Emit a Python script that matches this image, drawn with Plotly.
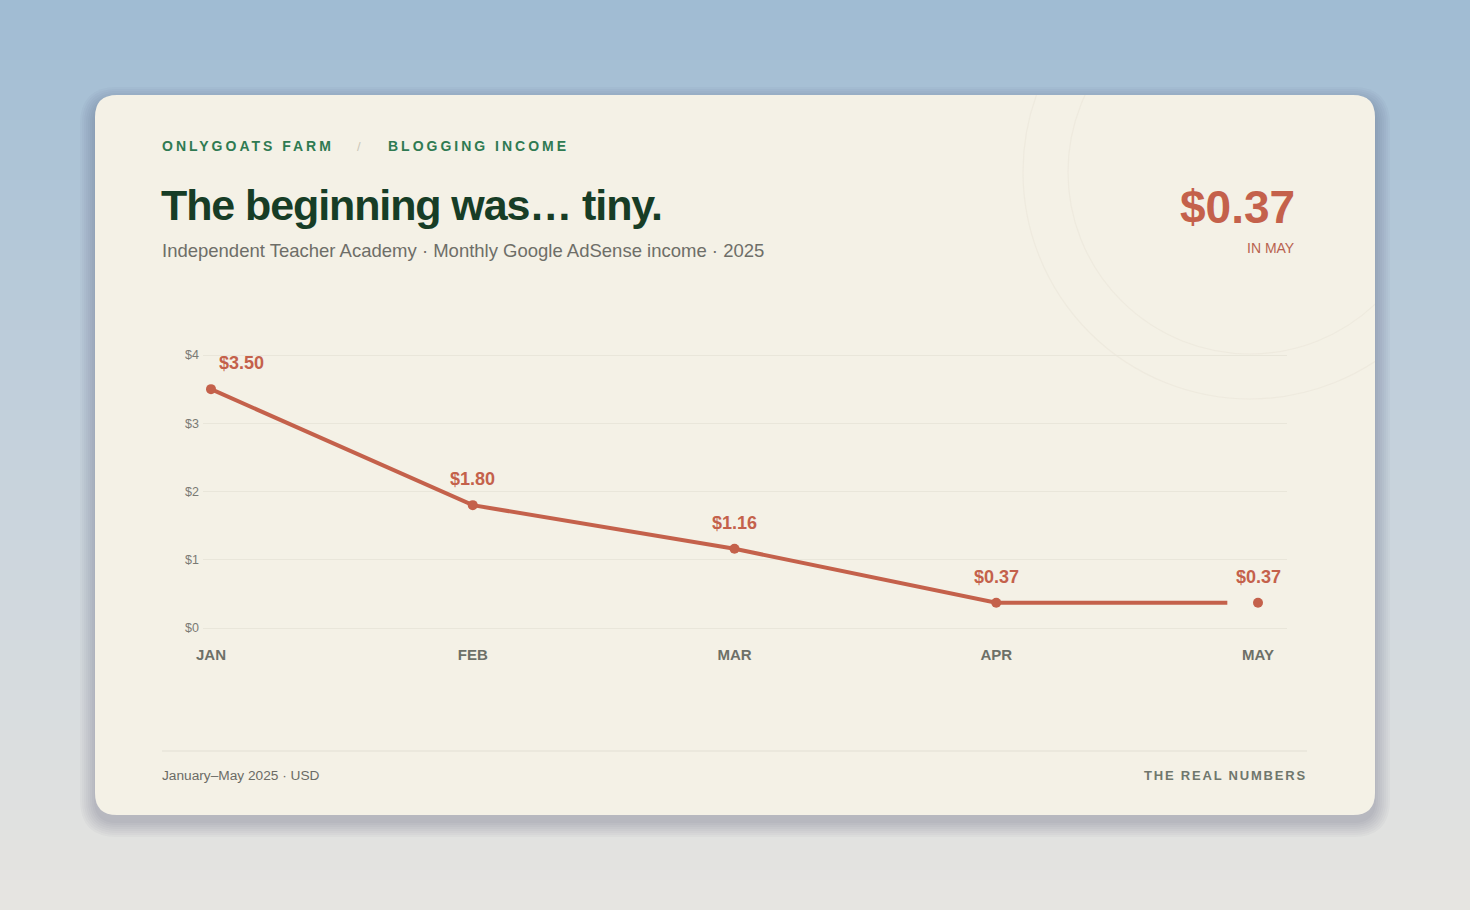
import plotly.graph_objects as go

# ---------------- data ----------------
months = ["JAN", "FEB", "MAR", "APR", "MAY"]
income = [3.50, 1.80, 1.16, 0.37, 0.37]
value_labels = ["$3.50", "$1.80", "$1.16", "$0.37", "$0.37"]
y_ticks = [0, 1, 2, 3, 4]
y_tick_labels = ["$0", "$1", "$2", "$3", "$4"]

W, H = 1470, 910
ACCENT = "#c4614b"
CARD = "#f4f1e6"


def px(x):
    return x / W


def py(y):
    return 1 - y / H


def rrect_path(x0, y0, x1, y1, r):
    """rounded rectangle path in paper coords from pixel values"""
    pts = [
        f"M{px(x0 + r)},{py(y0)}",
        f"L{px(x1 - r)},{py(y0)}",
        f"Q{px(x1)},{py(y0)} {px(x1)},{py(y0 + r)}",
        f"L{px(x1)},{py(y1 - r)}",
        f"Q{px(x1)},{py(y1)} {px(x1 - r)},{py(y1)}",
        f"L{px(x0 + r)},{py(y1)}",
        f"Q{px(x0)},{py(y1)} {px(x0)},{py(y1 - r)}",
        f"L{px(x0)},{py(y0 + r)}",
        f"Q{px(x0)},{py(y0)} {px(x0 + r)},{py(y0)}",
        "Z",
    ]
    return " ".join(pts)


def lerp(c1, c2, t):
    return tuple(round(a + (b - a) * t) for a, b in zip(c1, c2))


shapes = []

# background gradient
top_c = (160, 188, 211)
mid_c = (198, 210, 220)
bot_c = (231, 229, 225)
band = 10
for i in range(0, H, band):
    t = i / H
    if t < 0.5:
        c = lerp(top_c, mid_c, t / 0.5)
    else:
        c = lerp(mid_c, bot_c, (t - 0.5) / 0.5)
    shapes.append(dict(type="rect", xref="paper", yref="paper",
                       x0=0, x1=1, y0=py(i + band + 1), y1=py(i),
                       fillcolor=f"rgb{c}", line_width=0, layer="below"))

# card shadow
CX0, CY0, CX1, CY1, CR = 95, 95, 1375, 815, 22
for k in range(8):
    e = 1 + k * 2.0
    shapes.append(dict(type="path", xref="paper", yref="paper",
                       path=rrect_path(CX0 - e, CY0 - e + 7, CX1 + e, CY1 + e + 7, CR + e),
                       fillcolor="rgba(40,50,60,0.026)", line_width=0, layer="below"))

# card
shapes.append(dict(type="path", xref="paper", yref="paper",
                   path=rrect_path(CX0, CY0, CX1, CY1, CR),
                   fillcolor=CARD, line_width=0, layer="below"))

# decorative faint circles (clipped to the card via background axes)
for r in (227, 182):
    shapes.append(dict(type="circle", xref="x", yref="y",
                       x0=1250 - r, x1=1250 + r, y0=172 - r, y1=172 + r,
                       line=dict(color="rgba(225,220,205,0.3)", width=1.2),
                       fillcolor="rgba(0,0,0,0)", layer="below"))

# footer rule
shapes.append(dict(type="line", xref="paper", yref="paper",
                   x0=px(162), x1=px(1307), y0=py(751), y1=py(751),
                   line=dict(color="#e2dfd3", width=1.2), layer="below"))

fig = go.Figure()

# invisible background trace on pixel axes (x/y)
fig.add_trace(go.Scatter(x=[CX0], y=[CY0], mode="markers",
                         marker=dict(opacity=0), hoverinfo="skip",
                         showlegend=False, xaxis="x", yaxis="y"))

xs = list(range(len(months)))

# line
fig.add_trace(go.Scatter(x=xs, y=income, mode="lines",
                         line=dict(color=ACCENT, width=4, dash="1050px,2000px"),
                         hoverinfo="skip", showlegend=False,
                         xaxis="x2", yaxis="y2"))
# markers
fig.add_trace(go.Scatter(x=xs, y=income, mode="markers",
                         marker=dict(color=ACCENT, size=10),
                         hoverinfo="skip", showlegend=False,
                         xaxis="x2", yaxis="y2"))

annotations = []
for i, (m, v, lab) in enumerate(zip(months, income, value_labels)):
    annotations.append(dict(x=i, y=v, xref="x2", yref="y2", text=lab,
                            showarrow=False, yshift=26, xshift=30 if i == 0 else 0,
                            font=dict(family="Liberation Sans, Arial", size=18,
                                      color=ACCENT, weight="bold")))


def txt(x, y, text, size, color, xanchor="left", bold=False, spacing=None, family="Liberation Sans, Arial"):
    t = text
    if spacing is not None:
        t = f"<span style='letter-spacing:{spacing}px'>{text}</span>"
    annotations.append(dict(x=px(x), y=py(y), xref="paper", yref="paper",
                            text=t, showarrow=False, xanchor=xanchor, yanchor="middle",
                            font=dict(family=family, size=size, color=color,
                                      weight="bold" if bold else "normal")))


GREEN = "#2f7a52"
txt(160, 146, "ONLYGOATS FARM", 14, GREEN, bold=True, spacing=3)
txt(359, 146, "/", 13, "#cbc7b9", xanchor="center")
txt(386, 146, "BLOGGING INCOME", 14, GREEN, bold=True, spacing=3)
txt(159, 205, "The beginning was… tiny.", 43, "#173d26", bold=True, spacing=-1.1)
txt(160, 250, "Independent Teacher Academy · Monthly Google AdSense income · 2025",
    18.5, "#6e6e68")
txt(1297, 207, "$0.37", 46, ACCENT, xanchor="right", bold=True)
txt(1297, 248, "IN MAY", 14, "#b8624f", xanchor="right")
txt(160, 775, "January–May 2025 · USD", 13.7, "#6b6b65")
txt(1309, 775, "THE REAL NUMBERS", 13, "#6f776d", xanchor="right", bold=True, spacing=1.8)

# axis geometry (pixels)
X_JAN, X_MAY = 211, 1258
unit = (X_MAY - X_JAN) / 4
GX0, GX1 = 203, 1287
Y0PX, Y4PX = 628, 355
yunit = (Y0PX - Y4PX) / 4
DY_TOP, DY_BOT = 340, 640

fig.update_layout(
    width=W, height=H,
    margin=dict(l=0, r=0, t=0, b=0, pad=0, autoexpand=False),
    paper_bgcolor="#e6e4e0",
    plot_bgcolor="rgba(0,0,0,0)",
    shapes=shapes,
    annotations=annotations,
    showlegend=False,
    xaxis=dict(domain=[px(CX0), px(CX1)], range=[CX0, CX1], visible=False,
               fixedrange=True, automargin=False),
    yaxis=dict(domain=[py(CY1), py(CY0)], range=[CY1, CY0], visible=False,
               fixedrange=True, automargin=False),
    xaxis2=dict(domain=[px(GX0), px(GX1)],
                range=[(GX0 - X_JAN) / unit, (GX1 - X_JAN) / unit],
                anchor="y2", tickvals=xs, ticktext=months, automargin=False,
                showgrid=False, zeroline=False, showline=False, fixedrange=True,
                ticks="outside", ticklen=1, tickcolor="rgba(0,0,0,0)",
                tickfont=dict(family="Liberation Sans, Arial", size=15,
                              color="#6d7068", weight="bold")),
    yaxis2=dict(domain=[py(DY_BOT), py(DY_TOP)],
                range=[-(DY_BOT - Y0PX) / yunit, 4 + (Y4PX - DY_TOP) / yunit],
                anchor="x2", tickvals=y_ticks, ticktext=y_tick_labels, automargin=False,
                showgrid=True, gridcolor="#e9e6da", gridwidth=1, fixedrange=True,
                zeroline=False, showline=False, ticks="", ticklabelstandoff=3,
                tickfont=dict(family="Liberation Sans, Arial", size=12.5, color="#7a7a74")),
)

fig.write_html("out.html",
               config={"displayModeBar": False},
               post_script="document.body.style.margin='0';document.body.style.overflow='hidden';")
